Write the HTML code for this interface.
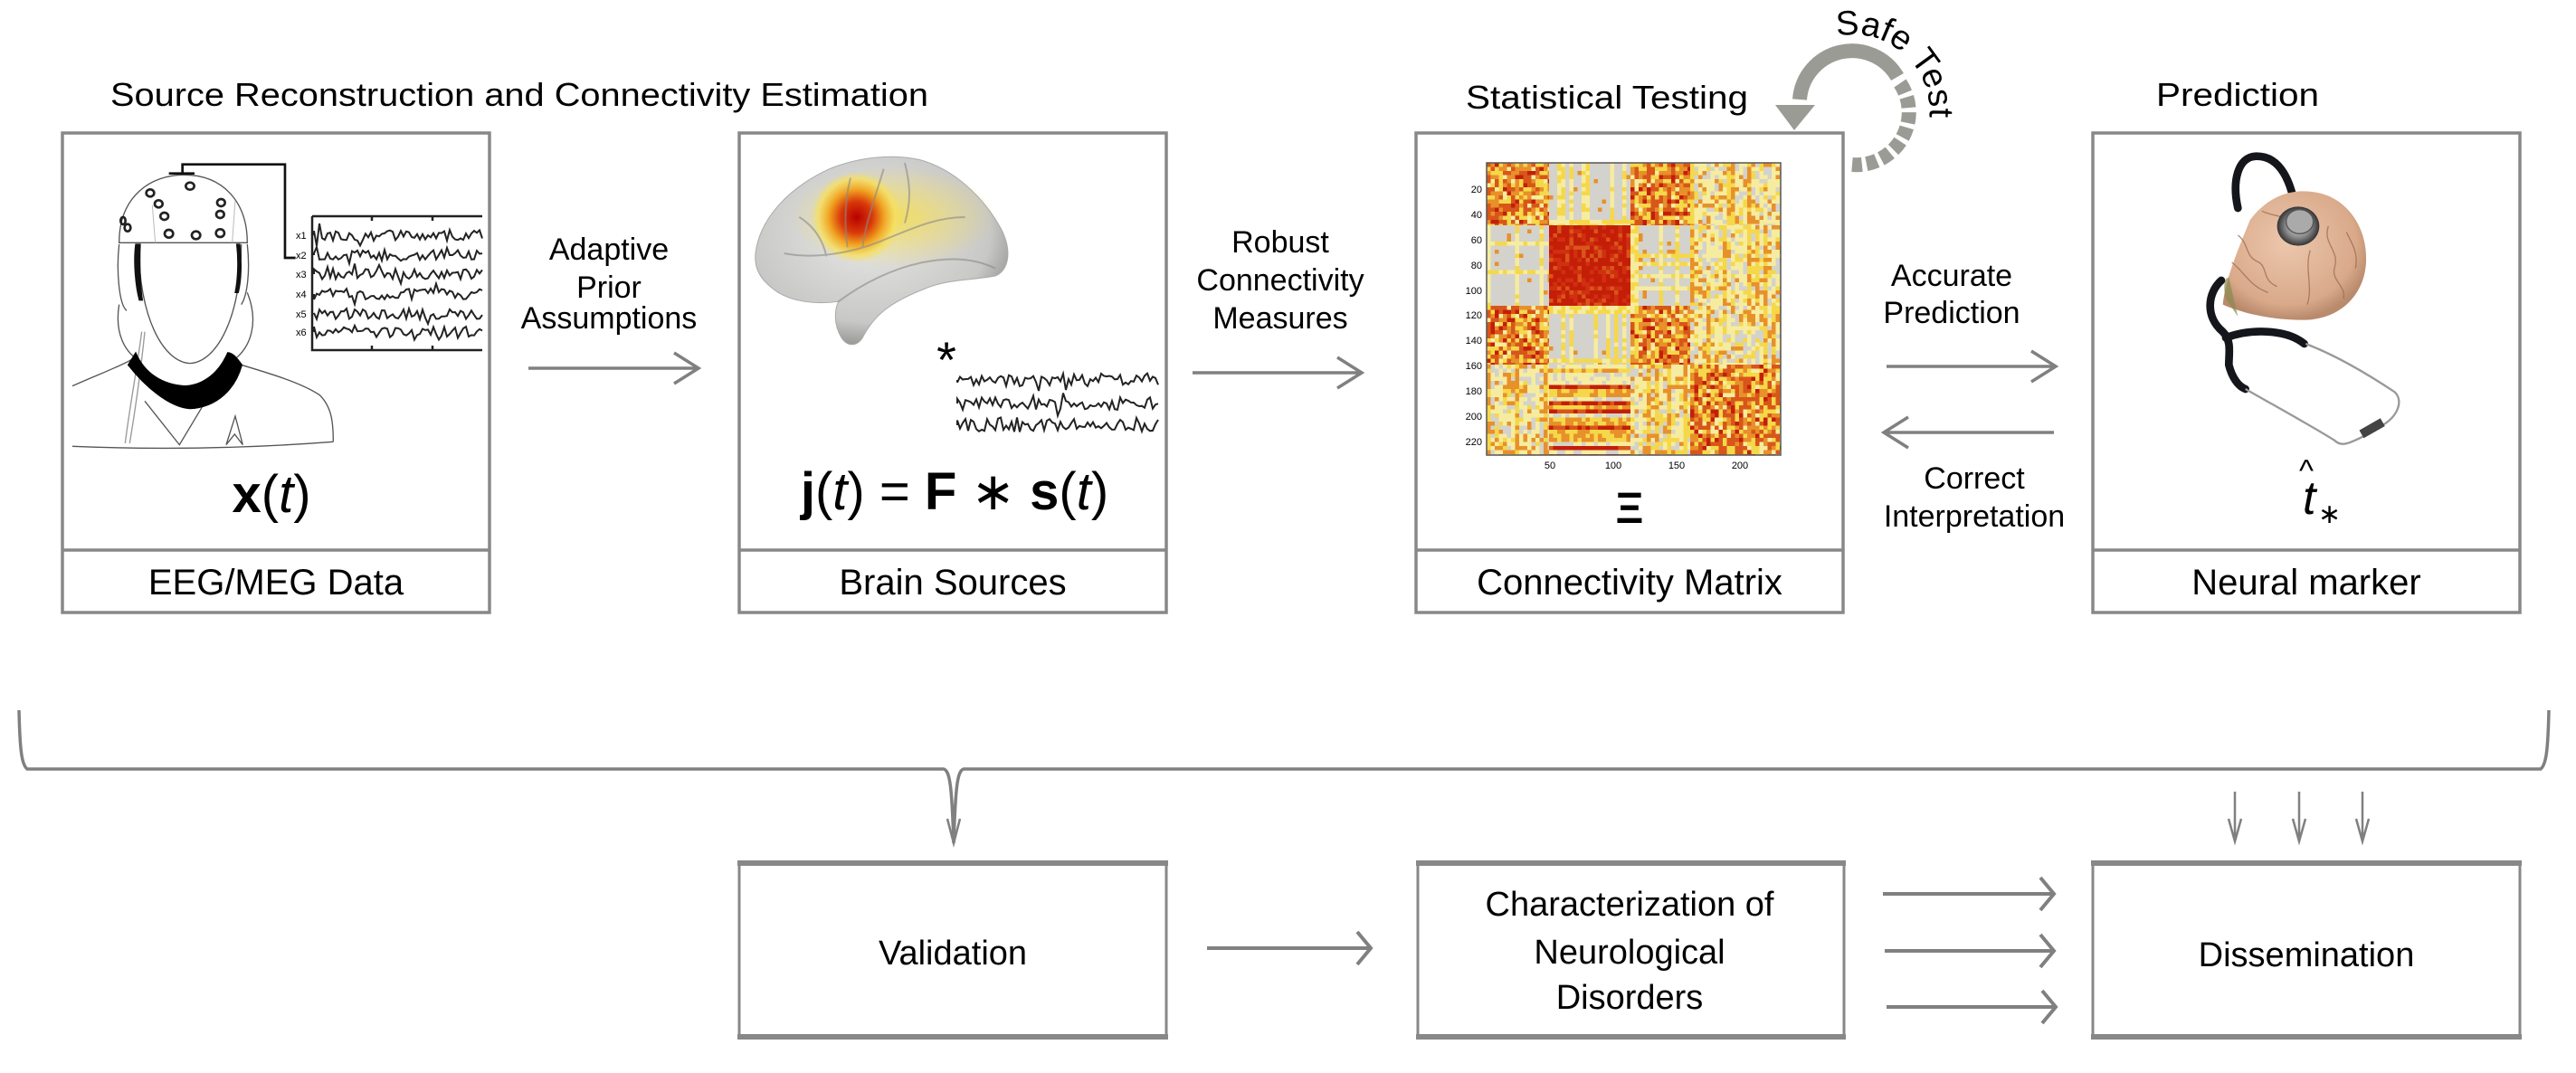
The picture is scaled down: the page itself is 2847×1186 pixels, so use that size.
<!DOCTYPE html>
<html><head><meta charset="utf-8"><style>
html,body{margin:0;padding:0;background:#fff;}
svg{display:block;}
text{font-family:"Liberation Sans",sans-serif;fill:#000;}
</style></head><body>
<svg id="s" xmlns="http://www.w3.org/2000/svg" width="2847" height="1186" viewBox="0 0 2847 1186">
<defs>
<radialGradient id="brainG" cx="0.45" cy="0.4" r="0.6">
<stop offset="0" stop-color="#e8e8e6"/><stop offset="0.8" stop-color="#c8c8c6"/><stop offset="1" stop-color="#9a9a98"/>
</radialGradient>
<radialGradient id="hot" cx="0.5" cy="0.5" r="0.5">
<stop offset="0" stop-color="#b80000"/><stop offset="0.35" stop-color="#d83a0a"/><stop offset="0.6" stop-color="#f0a020"/><stop offset="0.85" stop-color="#f6e060" stop-opacity="0.8"/><stop offset="1" stop-color="#f6e060" stop-opacity="0"/>
</radialGradient>
<radialGradient id="yel" cx="0.5" cy="0.5" r="0.5">
<stop offset="0" stop-color="#f4dc50" stop-opacity="0.9"/><stop offset="1" stop-color="#f4dc50" stop-opacity="0"/>
</radialGradient>
<radialGradient id="pink" cx="0.45" cy="0.4" r="0.6">
<stop offset="0" stop-color="#ecc7ad"/><stop offset="0.8" stop-color="#d9a98a"/><stop offset="1" stop-color="#b98a6c"/>
</radialGradient>
<radialGradient id="metal" cx="0.5" cy="0.5" r="0.5">
<stop offset="0" stop-color="#ddd"/><stop offset="0.6" stop-color="#888"/><stop offset="1" stop-color="#333"/>
</radialGradient>
<path id="arcT" d="M 2030 40 A 85 85 0 0 1 2131 140"/>
</defs>

<!-- Titles -->
<text x="122" y="117" font-size="36" textLength="904" lengthAdjust="spacingAndGlyphs">Source Reconstruction and Connectivity Estimation</text>
<text x="1776" y="120" font-size="36" text-anchor="middle" textLength="312" lengthAdjust="spacingAndGlyphs">Statistical Testing</text>
<text x="2473" y="117" font-size="36" text-anchor="middle" textLength="180" lengthAdjust="spacingAndGlyphs">Prediction</text>

<!-- Top boxes -->
<g fill="none" stroke="#888" stroke-width="3.5">
<rect x="69" y="147" width="472" height="530"/><line x1="69" y1="608" x2="541" y2="608"/>
<rect x="817" y="147" width="472" height="530"/><line x1="817" y1="608" x2="1289" y2="608"/>
<rect x="1565" y="147" width="472" height="530"/><line x1="1565" y1="608" x2="2037" y2="608"/>
<rect x="2313" y="147" width="472" height="530"/><line x1="2313" y1="608" x2="2785" y2="608"/>
</g>
<g font-size="40" text-anchor="middle">
<text x="305" y="657">EEG/MEG Data</text>
<text x="1053" y="657">Brain Sources</text>
<text x="1801" y="657">Connectivity Matrix</text>
<text x="2549" y="657">Neural marker</text>
</g>

<!-- Head drawing -->
<g transform="translate(60,150) scale(0.3333)" fill="none" stroke="#555" stroke-width="4">
<path d="M215 355 C215 200 320 130 430 130 C560 130 640 220 640 355 Z" fill="#fff"/>
<path d="M325 230 L335 355 M600 215 L590 355" stroke="#bbb" stroke-width="3"/>
<path d="M280 360 C280 600 360 750 450 755 C540 750 620 600 620 360"/>
<path d="M215 360 C205 450 215 560 240 580 M640 360 C650 450 640 530 620 560"/>
<path d="M215 560 C200 650 230 720 290 750 M640 520 C680 620 650 700 600 740"/>
<path d="M60 830 C150 790 230 760 260 740 M620 760 C720 790 820 820 880 860 C920 900 925 950 925 1015"/>
<path d="M60 1030 C300 1040 600 1040 925 1015"/>
<path d="M300 880 L415 1025 L520 850 M570 1025 L600 930 L625 1025 L598 990 Z"/>
<path d="M290 650 C270 800 250 900 235 1020 M300 650 C285 800 270 900 250 1020" stroke="#999"/>
<path d="M245 760 C300 830 380 900 450 905 C540 900 600 840 622 760 C600 730 590 720 575 720 C540 800 480 830 430 830 C360 825 300 790 270 720 Z" fill="#000" stroke="#000"/>
<path d="M270 360 C262 420 270 500 282 545 L292 545 C285 500 282 420 285 360 Z M605 360 C612 420 608 480 600 520 L610 520 C620 480 622 420 615 360Z" fill="#111" stroke="#111"/>
<g stroke="#222" stroke-width="8">
<ellipse cx="450" cy="167" rx="14" ry="12"/><ellipse cx="318" cy="190" rx="13" ry="12"/><ellipse cx="346" cy="226" rx="13" ry="12"/>
<ellipse cx="365" cy="267" rx="13" ry="12"/><ellipse cx="553" cy="222" rx="13" ry="12"/><ellipse cx="550" cy="261" rx="13" ry="12"/>
<ellipse cx="380" cy="325" rx="14" ry="13"/><ellipse cx="470" cy="330" rx="14" ry="13"/><ellipse cx="550" cy="323" rx="14" ry="13"/>
<ellipse cx="243" cy="305" rx="10" ry="12"/><ellipse cx="228" cy="282" rx="8" ry="12"/>
</g>
<path d="M380 125 L465 125 M425 125 L425 95 L765 95 L765 405 L800 405" stroke="#111" stroke-width="8"/>
</g>
<!-- EEG traces box -->
<g fill="none" stroke="#222" stroke-width="2.5">
<path d="M345 239 L533 239 M345 239 L345 387 L533 387 M411 387 L411 382 M478 387 L478 382 M411 239 L411 244 M478 239 L478 244"/>
</g>
<g font-size="11" fill="#333"><text x="327" y="264">x1</text><text x="327" y="286">x2</text><text x="327" y="307">x3</text><text x="327" y="329">x4</text><text x="327" y="351">x5</text><text x="327" y="371">x6</text></g>
<g id="eegTr" fill="none" stroke="#222" stroke-width="2"></g>

<!-- x(t) -->
<text x="300" y="566" font-size="58" text-anchor="middle"><tspan font-weight="bold">x</tspan>(<tspan font-style="italic">t</tspan>)</text>

<!-- Arrows top -->
<g fill="none" stroke="#808080" stroke-width="3.5">
<path d="M584 407 L772 407 M745 390 L772 407 L745 424"/>
<path d="M1318 412 L1505 412 M1478 395 L1505 412 L1478 429"/>
<path d="M2085 405 L2272 405 M2245 388 L2272 405 L2245 422"/>
<path d="M2270 478 L2082 478 M2109 461 L2082 478 L2109 495"/>
</g>
<g font-size="34" text-anchor="middle">
<text x="673" y="287">Adaptive</text><text x="673" y="329">Prior</text><text x="673" y="363">Assumptions</text>
<text x="1415" y="279">Robust</text><text x="1415" y="321">Connectivity</text><text x="1415" y="363">Measures</text>
<text x="2157" y="316">Accurate</text><text x="2157" y="357">Prediction</text>
<text x="2182" y="540">Correct</text><text x="2182" y="582">Interpretation</text>
</g>

<!-- Brain sources -->
<g transform="translate(800,140) scale(0.3333)">
<path d="M105 420 C120 300 220 200 350 140 C450 100 560 90 650 110 C760 140 860 230 920 340 C960 420 940 480 900 495 C820 510 740 505 660 540 C560 580 500 620 460 700 C440 730 410 730 390 700 C360 650 370 600 380 580 C300 590 230 580 180 550 C120 510 100 470 105 420 Z" fill="url(#brainG)" stroke="#aaa" stroke-width="3"/>
<ellipse cx="560" cy="300" rx="340" ry="170" fill="url(#yel)"/>
<ellipse cx="440" cy="300" rx="150" ry="150" fill="url(#hot)"/>
<g fill="none" stroke="#8a8a88" stroke-width="6" opacity="0.6">
<path d="M420 170 C400 250 400 330 410 400"/><path d="M530 140 C500 240 470 320 460 400"/>
<path d="M200 420 C300 440 420 420 520 380 C620 340 700 300 800 300"/>
<path d="M380 580 C460 520 560 470 660 450 C760 430 840 440 900 470"/>
<path d="M600 120 C620 200 620 250 600 320"/><path d="M250 300 C300 330 330 380 340 430"/>
</g>
</g>
<text x="1046" y="417" font-size="56" text-anchor="middle">*</text>
<g id="srcTr" fill="none" stroke="#222" stroke-width="2"></g>
<text x="1055" y="563" font-size="58" text-anchor="middle"><tspan font-weight="bold">j</tspan>(<tspan font-style="italic">t</tspan>) = <tspan font-weight="bold">F</tspan> ∗ <tspan font-weight="bold">s</tspan>(<tspan font-style="italic">t</tspan>)</text>

<!-- Connectivity matrix -->
<g id="mat"></g>
<rect x="1643" y="180" width="325" height="323" fill="none" stroke="#555" stroke-width="1.5"/>
<g font-size="11" fill="#555" text-anchor="end">
<text x="1638" y="213">20</text><text x="1638" y="241">40</text><text x="1638" y="269">60</text><text x="1638" y="297">80</text><text x="1638" y="325">100</text><text x="1638" y="352">120</text><text x="1638" y="380">140</text><text x="1638" y="408">160</text><text x="1638" y="436">180</text><text x="1638" y="464">200</text><text x="1638" y="492">220</text>
</g>
<g font-size="11" fill="#555" text-anchor="middle"><text x="1713" y="518">50</text><text x="1783" y="518">100</text><text x="1853" y="518">150</text><text x="1923" y="518">200</text></g>
<text x="1801" y="578" font-size="48" font-weight="bold" text-anchor="middle">Ξ</text>

<!-- Safe test arrow -->
<path d="M 2097 85 A 58 58 0 0 0 1989 110" fill="none" stroke="#9b9b95" stroke-width="16"/>
<path d="M1962 116 L2006 116 L1983 144 Z" fill="#9b9b95"/>
<path d="M 2100 92 A 58 58 0 0 1 2047 182" fill="none" stroke="#9b9b95" stroke-width="16" stroke-dasharray="12 5"/>
<text font-size="38"><textPath href="#arcT">Safe Test</textPath></text>

<!-- Brain + stethoscope -->
<g transform="translate(2300,150) scale(0.3333)">
<path d="M520 240 C500 150 520 70 580 68 C660 66 700 150 715 270" fill="none" stroke="#14161c" stroke-width="26" stroke-linecap="round"/>
<path d="M470 560 C480 470 520 380 560 280 C620 200 700 170 790 190 C880 210 950 300 945 420 C940 520 870 600 760 610 C680 615 560 600 470 560 Z" fill="url(#pink)"/>
<path d="M480 540 C470 500 475 470 490 470 L520 600 Z" fill="#8a8a50" opacity="0.7"/>
<g fill="none" stroke="#a06f55" stroke-width="4" opacity="0.8">
<path d="M520 330 C560 360 540 400 590 420 C620 440 600 480 650 500"/><path d="M760 380 C740 440 770 500 750 560"/>
<path d="M820 300 C800 360 860 380 840 440 C830 480 880 500 870 540"/><path d="M500 420 C540 450 560 500 620 520"/>
<path d="M600 250 C640 270 680 260 700 300"/><path d="M880 320 C900 360 920 390 910 440"/>
</g>
<ellipse cx="720" cy="300" rx="70" ry="65" fill="url(#metal)"/>
<ellipse cx="725" cy="285" rx="45" ry="40" fill="#aaa" stroke="#555" stroke-width="4"/>
<path d="M465 480 C420 520 410 600 470 650 C500 680 490 720 490 760 C500 800 520 830 545 840" fill="none" stroke="#14161c" stroke-width="26" stroke-linecap="round"/>
<path d="M480 670 C560 640 680 640 740 690" fill="none" stroke="#14161c" stroke-width="26" stroke-linecap="round"/>
<path d="M745 690 C850 730 950 790 1040 850 C1070 880 1050 930 1000 960 L930 1000 C880 1025 860 1030 840 1010 C760 960 650 900 545 840" fill="none" stroke="#999" stroke-width="7"/>
<path d="M930 990 L1000 950" stroke="#444" stroke-width="30"/>
</g>
<text x="2545" y="568" font-size="52" font-style="italic" font-family="Liberation Serif,serif">t</text>
<text x="2541" y="532" font-size="34">^</text>
<text x="2562" y="578" font-size="30">∗</text>

<!-- Brace -->
<path d="M21 785 C22 830 24 845 30 850 L1043 850 C1050 852 1052 870 1054 932 C1056 870 1058 852 1065 850 L2808 850 C2814 845 2816 830 2817 785" fill="none" stroke="#808080" stroke-width="3.5"/>
<path d="M1047 905 L1054 932 L1061 905" fill="none" stroke="#808080" stroke-width="2.5"/>
<g fill="none" stroke="#808080" stroke-width="2.5">
<path d="M2470 875 L2470 930 M2463 905 L2470 930 L2477 905"/>
<path d="M2541 875 L2541 930 M2534 905 L2541 930 L2548 905"/>
<path d="M2611 875 L2611 930 M2604 905 L2611 930 L2618 905"/>
</g>

<!-- Bottom boxes -->
<g fill="none" stroke="#888" stroke-width="3">
<rect x="817" y="953" width="472" height="193"/><rect x="1567" y="953" width="471" height="193"/><rect x="2313" y="953" width="472" height="193"/>
</g>
<g stroke="#888" stroke-width="6">
<line x1="815" y1="954" x2="1291" y2="954"/><line x1="815" y1="1146" x2="1291" y2="1146"/>
<line x1="1565" y1="954" x2="2040" y2="954"/><line x1="1565" y1="1146" x2="2040" y2="1146"/>
<line x1="2311" y1="954" x2="2787" y2="954"/><line x1="2311" y1="1146" x2="2787" y2="1146"/>
</g>
<g font-size="38" text-anchor="middle">
<text x="1053" y="1066">Validation</text>
<text x="1801" y="1012">Characterization of</text><text x="1801" y="1065">Neurological</text><text x="1801" y="1115">Disorders</text>
<text x="2549" y="1068">Dissemination</text>
</g>
<g fill="none" stroke="#808080" stroke-width="4">
<path d="M1334 1048 L1515 1048 M1500 1030 L1515 1048 L1500 1066"/>
<path d="M2081 988 L2270 988 M2255 970 L2270 988 L2255 1006"/>
<path d="M2083 1051 L2270 1051 M2255 1033 L2270 1051 L2255 1069"/>
<path d="M2085 1113 L2272 1113 M2257 1095 L2272 1113 L2257 1131"/>
</g>
</svg>
<script>
(function(){
var seed=12345;function r(){seed=(seed*16807)%2147483647;return (seed-1)/2147483646;}
var NS="http://www.w3.org/2000/svg";
function trace(g,x0,x1,y,amp){var d="M"+x0+" "+y;for(var x=x0;x<=x1;x+=3){d+=" L"+x+" "+(y+(r()-0.5)*amp*(r()<0.1?2.2:1)).toFixed(1);}var p=document.createElementNS(NS,"path");p.setAttribute("d",d);g.appendChild(p);}
var g1=document.getElementById("eegTr");[260,282,303,325,347,367].forEach(function(y){trace(g1,347,533,y,12);});
var g2=document.getElementById("srcTr");[420,446,470].forEach(function(y){trace(g2,1058,1280,y,14);});
var m=document.getElementById("mat");
var xb=[1643,1712,1802,1868,1968],yb=[180,249,338,403,503];
var T=[[0,1,0,3],[1,2,1,3],[0,1,0,3],[3,4,3,0]];
var cols={gray:"#d4d2cc",ly:"#f6eca0",y:"#f5d84a",o:"#e8902a",or:"#d8561a",r:"#c41e08"};
var cw=4.5,ch=4.5;
var html="";
for(var bi=0;bi<4;bi++)for(var bj=0;bj<4;bj++){
 var t=T[bi][bj];var colStr=[];
 for(var x=xb[bj];x<xb[bj+1];x+=cw){colStr.push(r());}
 var rowStr=[];for(var y=yb[bi];y<yb[bi+1];y+=ch){rowStr.push(r());}
 var ci=0;
 for(var x=xb[bj];x<xb[bj+1];x+=cw){var ri=0;
  for(var y=yb[bi];y<yb[bi+1];y+=ch){
   var v=r(),c;var cs=colStr[ci],rs=rowStr[ri];
   if(t==0){c=v<0.3?cols.or:v<0.55?cols.o:v<0.8?cols.y:(v<0.9?cols.r:cols.ly);}
   else if(t==1){c=(cs<0.25||rs<0.15)?(v<0.5?cols.y:cols.ly):(v<0.05?cols.o:cols.gray);}
   else if(t==2){c=v<0.6?cols.r:(v<0.85?"#d03010":cols.or);}
   else if(t==3){c=cs<0.2?(v<0.5?cols.o:cols.y):(v<0.45?cols.ly:v<0.7?cols.gray:v<0.85?cols.y:cols.o);}
   else {c=rs<0.35?(v<0.6?cols.r:cols.or):(rs<0.7?(v<0.5?cols.y:cols.o):(v<0.6?cols.ly:cols.gray));}
   var w=Math.min(cw,xb[bj+1]-x),h=Math.min(ch,yb[bi+1]-y);
   html+='<rect x="'+x.toFixed(1)+'" y="'+y.toFixed(1)+'" width="'+(w+0.3).toFixed(1)+'" height="'+(h+0.3).toFixed(1)+'" fill="'+c+'"/>';
   ri++;}
  ci++;}
}
m.innerHTML=html;
})();
</script>
</body></html>
